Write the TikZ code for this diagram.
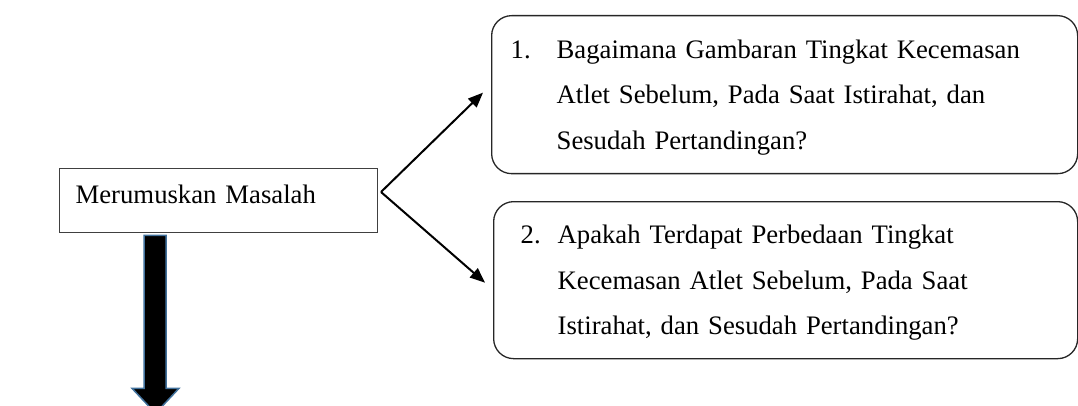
\documentclass[tikz,border=0pt]{standalone}
\usepackage{fontspec}
\setmainfont{Liberation Serif}
\usetikzlibrary{arrows.meta,calc}
\definecolor{arrowblue}{HTML}{41719C}
\begin{document}
\begin{tikzpicture}[x=1pt,y=-1pt,
  txt/.style={font=\fontsize{26.7}{45.5}\selectfont},
  mainbox/.style={draw=black!75, line width=1.3pt, minimum width=318pt, minimum height=64pt,
    inner xsep=16pt, inner ysep=0pt, text width=286pt, align=left, text height=18pt, text depth=12pt},
  qbox/.style={draw=black!85, line width=1.3pt, rounded corners=20pt, align=left, inner ysep=0pt},
  conn/.style={line width=2pt, -{Triangle[length=15pt,width=12pt]}},
  blockarrow/.style={fill=black, draw=arrowblue, line width=1.5pt, line join=miter}
]
\useasboundingbox (0,0) rectangle (1078,406);

\node[mainbox, txt, anchor=north west] (mb) at (59,168) {Merumuskan Masalah};

\node[qbox, txt, anchor=north west, minimum width=586pt, minimum height=158pt,
      text width=548pt, inner xsep=19pt] (q1) at (491,15)
  {\rule{0pt}{24pt}\makebox[46pt][l]{1.}Bagaimana Gambaran Tingkat Kecemasan\\
   \hspace*{46pt}Atlet Sebelum, Pada Saat Istirahat, dan\\
   \hspace*{46pt}Sesudah Pertandingan?};

\node[qbox, txt, anchor=north west, minimum width=584pt, minimum height=157pt,
      text width=530pt, inner xsep=27pt] (q2) at (493,201)
  {\rule{0pt}{24pt}\makebox[37pt][l]{2.}Apakah Terdapat Perbedaan Tingkat\\
   \hspace*{37pt}Kecemasan Atlet Sebelum, Pada Saat\\
   \hspace*{37pt}Istirahat, dan Sesudah Pertandingan?};

\coordinate (fork) at (381,192);
\draw[conn] (fork) -- ([xshift=-8pt,yshift=2pt]q1.west);
\draw[conn] (fork) -- ([xshift=-8pt,yshift=-2.5pt]q2.west);

\draw[blockarrow] ($(mb.south west)+(85,2)$) -- ++(22,0) -- ++(0,153) -- ++(13,0)
  -- ++(-23.5,25) -- ++(-23.5,-25) -- ++(12,0) -- cycle;
\end{tikzpicture}
\end{document}
